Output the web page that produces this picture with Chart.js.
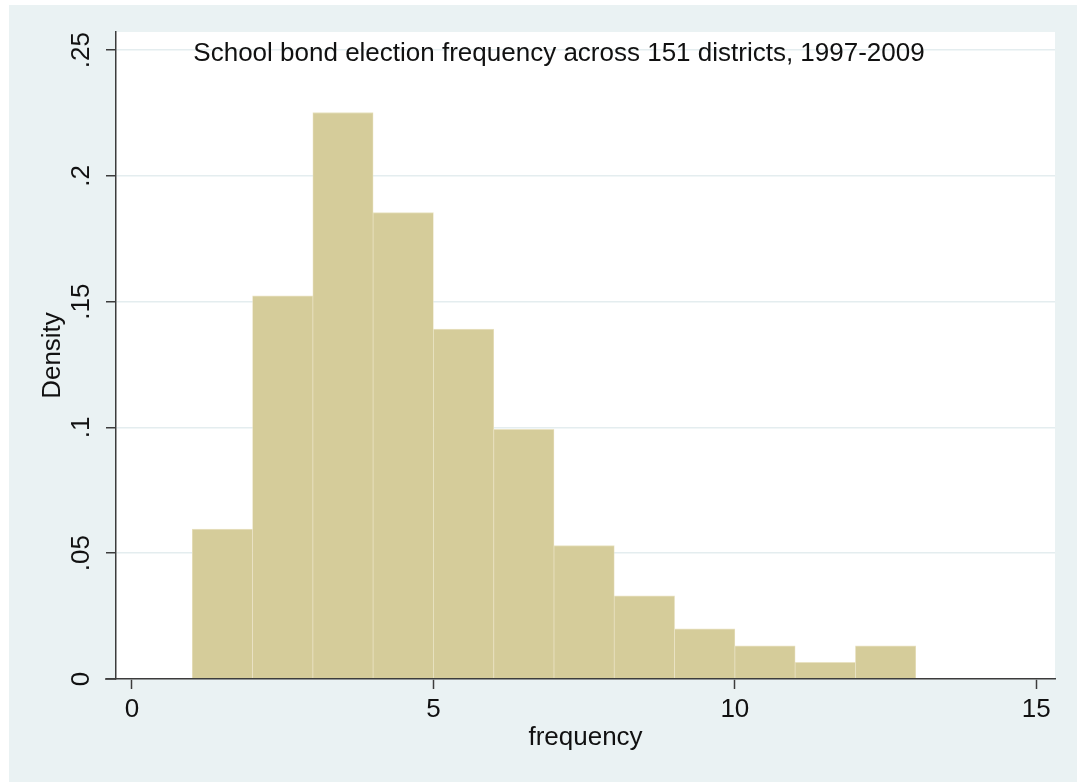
<!DOCTYPE html>
<html>
<head>
<meta charset="utf-8">
<script src="https://cdn.jsdelivr.net/npm/chart.js@4.4.1/dist/chart.umd.min.js"></script>
<style>
  html, body { margin: 0; padding: 0; background: #ffffff; }
  #wrap { position: absolute; left: 9px; top: 5px; width: 1068px; height: 777px; background: #eaf2f3; }
  canvas { display: block; }
</style>
</head>
<body>
<div id="wrap"><canvas id="hist" width="1068" height="777"></canvas></div>
<script>
// Histogram bins (width 1) and their densities
const binLeft  = [1, 2, 3, 4, 5, 6, 7, 8, 9, 10, 11, 12];
const binRight = [2, 3, 4, 5, 6, 7, 8, 9, 10, 11, 12, 13];
const density  = [0.0596, 0.1523, 0.2252, 0.1854, 0.1391, 0.0993, 0.0530, 0.0331, 0.0199, 0.0132, 0.0066, 0.0132];

// Axis ticks and their labels
const xTicks = [0, 5, 10, 15];
const yTicks = [0, 0.05, 0.1, 0.15, 0.2, 0.25];
const yTickLabels = ['0', '.05', '.1', '.15', '.2', '.25'];

const chartTitle = 'School bond election frequency across 151 districts, 1997-2009';
const xTitle = 'frequency';
const yTitle = 'Density';

const FONT = '"Liberation Sans", Arial, Helvetica, sans-serif';
const FONT_SIZE = 26;
const AXIS_COLOR = '#3c3c3c';
const GRID_COLOR = '#e4edef';
const BAR_FILL = '#d5cc9a';
const BAR_EDGE = '#e9e2c2';

const points = binLeft.map((l, i) => ({ x: (l + binRight[i]) / 2, y: density[i] }));

// White plot region behind the bars
const plotBackground = {
  id: 'plotBackground',
  beforeDraw(chart) {
    const { ctx, chartArea: a } = chart;
    ctx.save();
    ctx.fillStyle = '#ffffff';
    ctx.fillRect(a.left, a.top, a.right - a.left, a.bottom - a.top);
    ctx.restore();
  }
};

// Title placed inside the plot region, plus the short x-axis stub left of the y axis
const overlay = {
  id: 'overlay',
  afterDraw(chart) {
    const { ctx, chartArea: a } = chart;
    ctx.save();
    ctx.strokeStyle = AXIS_COLOR;
    ctx.lineWidth = 1.5;
    ctx.beginPath();
    ctx.moveTo(a.left - 11, a.bottom);
    ctx.lineTo(a.left, a.bottom);
    ctx.stroke();

    ctx.fillStyle = '#111111';
    ctx.font = FONT_SIZE + 'px ' + FONT;
    ctx.textAlign = 'center';
    ctx.textBaseline = 'alphabetic';
    ctx.fillText(chartTitle, a.left + (a.right - a.left) * 0.4718, a.top + 29);
    ctx.restore();
  }
};

new Chart(document.getElementById('hist'), {
  type: 'bar',
  data: {
    datasets: [{
      data: points,
      backgroundColor: BAR_FILL,
      borderColor: BAR_EDGE,
      borderWidth: { top: 1, left: 0.75, right: 0.75, bottom: 0 },
      borderSkipped: false,
      barPercentage: 1,
      categoryPercentage: 1
    }]
  },
  options: {
    responsive: false,
    animation: false,
    events: [],
    layout: { padding: { top: 27, right: 22, bottom: 0, left: 0 } },
    plugins: { legend: { display: false }, tooltip: { enabled: false }, title: { display: false } },
    scales: {
      x: {
        type: 'linear',
        min: -0.265,
        max: 15.31,
        offset: false,
        afterBuildTicks(scale) { scale.ticks = xTicks.map(v => ({ value: v })); },
        afterFit(scale) { scale.height = 103; },
        grid: { display: true, offset: false, drawOnChartArea: false, drawTicks: true, tickLength: 10, tickColor: AXIS_COLOR, tickWidth: 1.5 },
        border: { display: true, color: AXIS_COLOR, width: 1.5, z: 1 },
        ticks: { color: '#111111', font: { family: FONT, size: FONT_SIZE }, padding: 5, maxRotation: 0, callback: v => String(v) },
        title: { display: true, text: xTitle, color: '#111111', font: { family: FONT, size: FONT_SIZE }, padding: { top: 0, bottom: 29 } }
      },
      y: {
        type: 'linear',
        min: 0,
        max: 0.2572,
        afterBuildTicks(scale) { scale.ticks = yTicks.map(v => ({ value: v })); },
        afterFit(scale) { scale.width = 107; },
        grid: { display: true, color: GRID_COLOR, lineWidth: 1.5, drawTicks: true, tickLength: 10, tickColor: AXIS_COLOR, tickWidth: 1.5 },
        border: { display: true, color: AXIS_COLOR, width: 1.5, z: 1 },
        ticks: {
          color: '#111111',
          font: { family: FONT, size: FONT_SIZE },
          padding: 6,
          minRotation: 90,
          maxRotation: 90,
          crossAlign: 'center',
          callback: (v, i) => yTickLabels[i]
        },
        title: { display: true, text: yTitle, color: '#111111', font: { family: FONT, size: FONT_SIZE }, padding: { top: 28, bottom: 0 } }
      }
    }
  },
  plugins: [plotBackground, overlay]
});
</script>
</body>
</html>
